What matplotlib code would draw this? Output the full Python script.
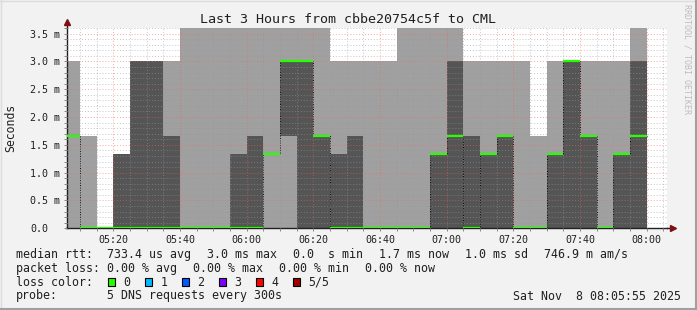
import numpy as np
import matplotlib
matplotlib.use("Agg")
import matplotlib.pyplot as plt
from matplotlib.patches import Rectangle
from matplotlib.lines import Line2D
from matplotlib.ticker import MultipleLocator, FixedLocator, FuncFormatter

# 5 min steps, start time in minutes after midnight (05:05 .. 07:55)
step_start = list(range(305, 480, 5))

# the 5 sorted DNS pings per step in ms (4.0 = beyond graph top)
ping1 = [0.0] * 35
ping2 = [1.667, 0, 0, 0, 0, 0, 0, 0, 0, 0, 0, 0, 1.333, 1.667, 0, 0, 0, 0,
         0, 0, 0, 0, 0, 0, 0, 0, 0, 0, 0, 0, 0, 0, 0, 0, 0]
ping3 = [1.667, 0, 0, 0, 0, 0, 0, 0, 0, 0, 0, 0, 1.333, 3.0, 3.0, 1.667, 0, 0,
         0, 0, 0, 0, 1.333, 1.667, 0, 1.333, 1.667, 0, 0, 1.333, 3.0, 1.667, 0, 1.333, 1.667]
ping4 = [1.667, 0, 0, 1.333, 3.0, 3.0, 1.667, 0, 0, 0, 1.333, 1.667, 1.333, 3.0, 3.0, 1.667, 1.333, 1.667,
         0, 0, 0, 0, 1.333, 3.0, 1.667, 1.333, 1.667, 0, 0, 1.333, 3.0, 1.667, 0, 1.333, 3.0]
ping5 = [3.0, 1.667, 0, 1.333, 3.0, 3.0, 3.0, 4.0, 4.0, 4.0, 4.0, 4.0, 4.0, 4.0, 4.0, 4.0, 3.0, 3.0,
         3.0, 3.0, 4.0, 4.0, 4.0, 4.0, 3.0, 3.0, 3.0, 3.0, 1.667, 3.0, 3.0, 3.0, 3.0, 3.0, 4.0]

y_ticks = [0.0, 0.5, 1.0, 1.5, 2.0, 2.5, 3.0, 3.5]
y_tick_labels = ["0.0", "0.5 m", "1.0 m", "1.5 m", "2.0 m", "2.5 m", "3.0 m", "3.5 m"]

title = "Last 3 Hours from cbbe20754c5f to CML"
rtt_items = ["733.4 us avg", "3.0 ms max", "0.0  s min", "1.7 ms now", "1.0 ms sd", "746.9 m am/s"]
loss_items = ["0.00 % avg", "0.00 % max", "0.00 % min", "0.00 % now"]
loss_labels = ["0", "1", "2", "3", "4", "5/5"]
loss_colors = ["#26ff00", "#00b8ff", "#0059ff", "#7e00ff", "#ff0000", "#a10000"]
probe_text = "5 DNS requests every 300s"
date_text = "Sat Nov  8 08:05:55 2025"

W, H = 697, 310
MONO = "DejaVu Sans Mono"
plt.rcParams["font.family"] = MONO

LIGHT = "#a0a0a0"
DARK = "#555555"


def fx(x):
    return x / W


def fy(y):
    return 1 - y / H


fig = plt.figure(figsize=(W / 100, H / 100), dpi=100, facecolor="#f2f2f2")
ax = fig.add_axes([fx(66.5), fy(228.3), 600 / W, 200.3 / H])
ax.set_facecolor("white")

starts = np.array(step_start, dtype=float)
p = [np.array(v, dtype=float) for v in (ping1, ping2, ping3, ping4, ping5)]

# smoke: outer layers light, inner layers dark
layer_colors = [LIGHT, DARK, DARK, LIGHT]
for k in range(4):
    ax.bar(starts, p[k + 1] - p[k], bottom=p[k], width=5, align="edge",
           color=layer_colors[k], linewidth=0, zorder=1)

# median line: black dotted risers, green (0 loss) level segments
edges = np.append(starts, starts[-1] + 5)
ax.step(edges, np.append(p[2], p[2][-1]), where="post", color="black",
        lw=0.7, linestyle=(0, (1, 1.5)), zorder=2)
ax.hlines(p[2], starts, starts + 5, colors=loss_colors[0], lw=1.6, zorder=3)

ax.set_xlim(305 + 55 / 60, 485 + 55 / 60)
ax.set_ylim(0, 3.6)

ax.xaxis.set_major_locator(MultipleLocator(20))
ax.xaxis.set_minor_locator(MultipleLocator(5))
ax.xaxis.set_major_formatter(FuncFormatter(lambda v, pos: "%02d:%02d" % (v // 60, v % 60)))
ax.yaxis.set_major_locator(FixedLocator(y_ticks))
ax.set_yticklabels(y_tick_labels)
ax.yaxis.set_minor_locator(MultipleLocator(0.1))

ax.set_axisbelow(False)
ax.grid(which="minor", color="#979797", alpha=0.55, lw=0.7, linestyle=(0, (1, 2)))
ax.grid(which="major", color="#ff5a5a", alpha=0.55, lw=0.7, linestyle=(0, (1, 2)))

ax.tick_params(which="both", direction="out", length=2, width=0.7, color="#888888")
ax.tick_params(axis="x", which="major", labelsize=7.2, pad=3)
ax.tick_params(axis="y", which="major", labelsize=7.2, pad=24.3)
for lbl in ax.get_yticklabels():
    lbl.set_horizontalalignment("left")
for lbl in ax.get_xticklabels() + ax.get_yticklabels():
    lbl.set_color("#202020")

for s in ("top", "right"):
    ax.spines[s].set_visible(False)
for s in ("left", "bottom"):
    ax.spines[s].set_color("#202020")
    ax.spines[s].set_linewidth(1)

# axis arrows
ax.plot([0, 0], [1, 1.03], color="#202020", lw=1, transform=ax.transAxes, clip_on=False)
ax.plot([1, 1.01], [0, 0], color="#202020", lw=1, transform=ax.transAxes, clip_on=False)
ax.plot([0], [1.03], marker="^", ms=4.5, color="#7f1010", transform=ax.transAxes, clip_on=False)
ax.plot([1.01], [0], marker=">", ms=4.5, color="#7f1010", transform=ax.transAxes, clip_on=False)

ax.set_ylabel("Seconds", fontsize=8.3, color="#202020", va="center")
ax.yaxis.set_label_coords((11 - 66.5) / 600, 0.5)

fig.text(fx(348), fy(19.3), title, fontsize=9.6, ha="center", va="center", color="#202020")
fig.text(fx(687), fy(4), "RRDTOOL / TOBI OETIKER", fontsize=6, rotation=270,
         ha="center", va="top", color="#bdbdbd")

# legend
LFS = 8.4
fig.text(fx(16), fy(254.3), "median rtt:", fontsize=LFS, va="center", color="#202020")
x0 = 107.3
for item in rtt_items:
    fig.text(fx(x0), fy(254.3), item, fontsize=LFS, va="center", color="#202020")
    x0 += len(item) * 7.0 + 16
fig.text(fx(16), fy(268.3), "packet loss:", fontsize=LFS, va="center", color="#202020")
x0 = 107.3
for item in loss_items:
    fig.text(fx(x0), fy(268.3), item, fontsize=LFS, va="center", color="#202020")
    x0 += len(item) * 7.0 + 16
fig.text(fx(16), fy(282.3), "loss color:", fontsize=LFS, va="center", color="#202020")
bx = 108.3
for lab, col in zip(loss_labels, loss_colors):
    fig.add_artist(Rectangle((fx(bx), fy(285.5)), 7 / W, 7.5 / H, transform=fig.transFigure,
                             facecolor=col, edgecolor="black", lw=0.8))
    fig.text(fx(bx + 15), fy(282.3), lab, fontsize=LFS, va="center", color="#202020")
    bx += 37.0
fig.text(fx(16), fy(296), "probe:", fontsize=LFS, va="center", color="#202020")
fig.text(fx(107.3), fy(296), probe_text, fontsize=LFS, va="center", color="#202020")
fig.text(fx(681), fy(296), date_text, fontsize=LFS, va="center", ha="right", color="#202020")

# frame
fig.add_artist(Line2D([0, 1], [fy(0.5), fy(0.5)], color="#dcdcdc", lw=1, transform=fig.transFigure))
fig.add_artist(Line2D([fx(0.5), fx(0.5)], [0, 1], color="#dcdcdc", lw=1, transform=fig.transFigure))
fig.add_artist(Line2D([0, 1], [fy(309), fy(309)], color="#a0a0a0", lw=1.5, transform=fig.transFigure))
fig.add_artist(Line2D([fx(696), fx(696)], [0, 1], color="#a0a0a0", lw=1.5, transform=fig.transFigure))

fig.savefig("out.png", dpi=100, facecolor=fig.get_facecolor())
